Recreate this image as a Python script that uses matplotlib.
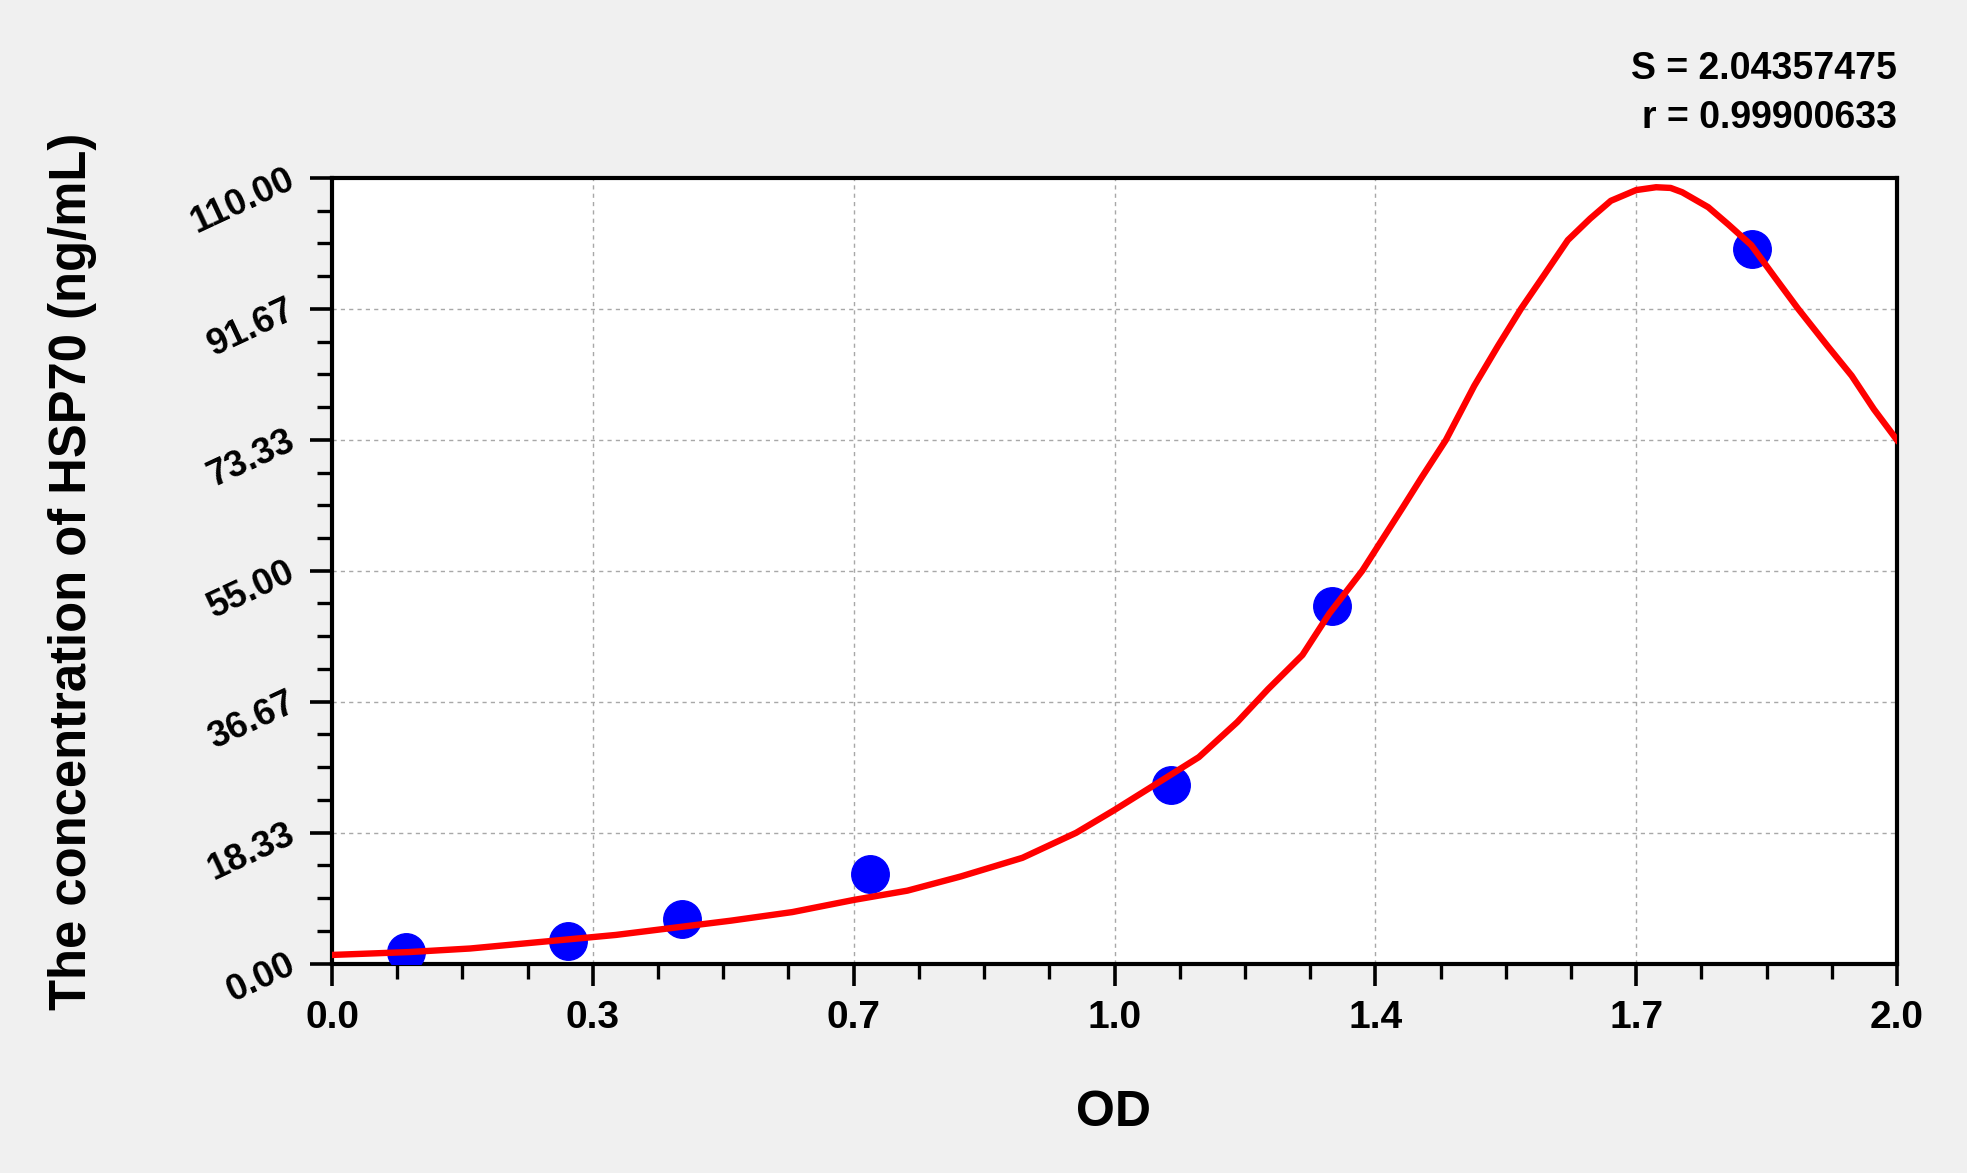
import matplotlib
matplotlib.use("Agg")
import matplotlib.pyplot as plt
import numpy as np
from matplotlib.ticker import AutoMinorLocator

# standards (OD vs concentration)
od_points = [0.097, 0.308, 0.456, 0.701, 1.093, 1.304, 1.851]
conc_points = [1.56, 3.12, 6.25, 12.5, 25.0, 50.0, 100.0]

# fitted curve
curve_od = [0.0, 0.10, 0.18, 0.31, 0.37, 0.46, 0.52, 0.60, 0.68, 0.75, 0.82, 0.90,
            0.97, 1.02, 1.09, 1.13, 1.18, 1.22, 1.265, 1.30, 1.343, 1.396, 1.42,
            1.452, 1.489, 1.52, 1.55, 1.58, 1.611, 1.64, 1.667, 1.70, 1.726, 1.745,
            1.76, 1.794, 1.82, 1.85, 1.88, 1.911, 1.95, 1.981, 2.01, 2.04]
curve_conc = [1.2, 1.6, 2.1, 3.4, 4.0, 5.2, 6.0, 7.2, 8.9, 10.2, 12.2, 14.8,
              18.3, 21.5, 26.2, 28.9, 33.8, 38.4, 43.2, 49.0, 55.0, 63.9, 68.0,
              73.3, 80.9, 86.5, 91.7, 96.4, 101.3, 104.3, 106.8, 108.3, 108.7, 108.6,
              108.0, 105.9, 103.5, 100.6, 96.2, 91.7, 86.4, 82.3, 77.6, 73.3]

x_max = 2.04
y_max = 110.0
x_tick_labels = ["0.0", "0.3", "0.7", "1.0", "1.4", "1.7", "2.0"]
y_tick_labels = ["0.00", "18.33", "36.67", "55.00", "73.33", "91.67", "110.00"]

s_text = "S = 2.04357475"
r_text = "r = 0.99900633"

plt.rcParams["font.family"] = ["Liberation Sans", "DejaVu Sans"]

fig = plt.figure(figsize=(19.67, 11.73), dpi=100, facecolor="#f0f0f0")
ax = fig.add_axes([0.1688, 0.1786, 0.7956, 0.6697])
ax.set_facecolor("white")

ax.plot(od_points, conc_points, "o", color="#0000ff", markersize=27, zorder=3)
ax.plot(curve_od, curve_conc, color="#ff0000", linewidth=4.6, zorder=4,
        solid_joinstyle="round")

ax.set_xlim(0, x_max)
ax.set_ylim(0, y_max)
ax.set_xticks(np.linspace(0, x_max, len(x_tick_labels)))
ax.set_xticklabels(x_tick_labels, fontsize=28, fontweight="bold")
ax.set_yticks(np.linspace(0, y_max, len(y_tick_labels)))
ax.set_yticklabels(y_tick_labels, fontsize=26.5, fontweight="bold",
                   rotation=25, ha="right", va="center", rotation_mode="anchor")
ax.xaxis.set_minor_locator(AutoMinorLocator(4))
ax.yaxis.set_minor_locator(AutoMinorLocator(4))
ax.tick_params(which="major", direction="out", length=16, width=2.6, colors="black")
ax.tick_params(which="minor", direction="out", length=11, width=2.4, colors="black")
ax.tick_params(axis="x", which="major", pad=10)
ax.tick_params(axis="y", which="major", pad=12)

ax.grid(True, which="major", color="#a8a8a8", linestyle=(0, (3, 3)), linewidth=1.0)
ax.set_axisbelow(True)
for sp in ax.spines.values():
    sp.set_linewidth(3.0)
    sp.set_color("black")

fig.text(0.037, 0.513, "The concentration of HSP70 (ng/mL)", rotation=90,
         ha="center", va="center", fontsize=36.5, fontweight="bold")
fig.text(0.566, 0.051, "OD", ha="center", va="center", fontsize=36,
         fontweight="bold")
fig.text(0.9644, 0.9327, s_text, ha="right", va="baseline", fontsize=27,
         fontweight="bold")
fig.text(0.9644, 0.8909, r_text, ha="right", va="baseline", fontsize=27,
         fontweight="bold")

fig.savefig("out.png", dpi=100, facecolor=fig.get_facecolor())
plt.close(fig)
